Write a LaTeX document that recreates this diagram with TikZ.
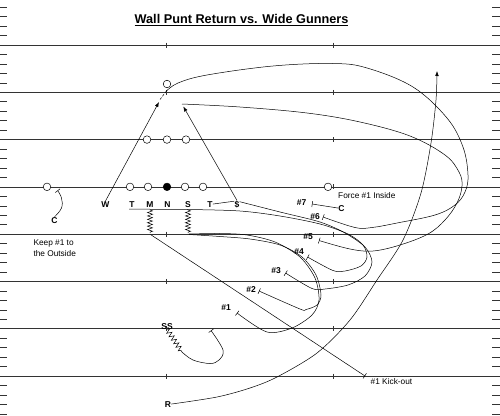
\documentclass[tikz,border=0pt]{standalone}
\usepackage{fontspec}
\setmainfont{Liberation Sans}
\usetikzlibrary{arrows.meta,decorations.pathmorphing}
\begin{document}
\begin{tikzpicture}[x=1pt,y=-1pt,
  yard/.style={draw=black!80,line width=0.6pt},
  tick/.style={draw=black!80,line width=0.5pt},
  player/.style={circle,draw,fill=white,inner sep=0pt,minimum size=7.6pt,line width=0.5pt},
  lbl/.style={font=\bfseries\fontsize{8.5}{10}\selectfont,inner sep=0pt,anchor=base},
  txt/.style={font=\fontsize{8.3}{10.5}\selectfont,inner sep=0pt,anchor=base west},
  route/.style={draw,line width=0.5pt},
  blk/.style={route,-{Bar[width=6pt,line width=0.5pt]}},
  arr/.style={route,-{Latex[length=5pt,width=3.6pt]}},
  zz/.style={route,decorate,decoration={zigzag,segment length=3.4pt,amplitude=2.5pt}},
  zzw/.style={route,decorate,decoration={zigzag,segment length=4.2pt,amplitude=2.5pt}}]
\useasboundingbox (0,0) rectangle (500,415);
\fill[white] (0,0) rectangle (500,415);
% yard lines and hash marks
\foreach \k in {0,...,7}{
  \pgfmathsetmacro\yy{45+47.286*\k}
  \draw[yard] (0,\yy) -- (500,\yy);
  \draw[tick] (166.7,\yy-2.5) -- (166.7,\yy+2.5);
  \draw[tick] (333.3,\yy-2.5) -- (333.3,\yy+2.5);
}
\foreach \k in {-1,...,7}{
  \foreach \j in {1,...,4}{
    \pgfmathsetmacro\yy{45+47.286*\k+9.457*\j}
    \draw[tick] (0,\yy) -- (6.5,\yy);
    \draw[tick] (492,\yy) -- (500,\yy);
  }
}
% title
\node[font=\bfseries\fontsize{12.7}{15}\selectfont,inner sep=0pt,anchor=base] (title) at (241.5,23.5) {\underline{Wall Punt Return vs. Wide Gunners}};
% kicking team
\node[player] (g1) at (47,186.86) {};
\node[player] (l1) at (130,186.86) {};
\node[player] (l2) at (148,186.86) {};
\node[player,fill=black] (l3) at (167,186.86) {};
\node[player] (l4) at (185,186.86) {};
\node[player] (l5) at (203,186.86) {};
\node[player] (g2) at (328,186.86) {};
\node[player] (u1) at (147,139.57) {};
\node[player] (u2) at (167,139.57) {};
\node[player] (u3) at (186,139.57) {};
\node[player] (pt) at (167,84) {};
% return team labels
\node[lbl] (W) at (105.5,207) {W};
\node[lbl] (T1) at (132,207) {T};
\node[lbl] (M) at (150,207) {M};
\node[lbl] (N) at (167.5,207) {N};
\node[lbl] (S) at (188,207) {S};
\node[lbl] (T2) at (210,207) {T};
\node[lbl] (D) at (237,207) {\$};
\node[lbl] (C1) at (54.5,223) {C};
\node[lbl] (C2) at (341.5,211) {C};
\node[lbl] (SS) at (167,329) {SS};
\node[lbl] (R) at (168,407) {R};
% wall spot labels
\node[lbl] (w7) at (301.5,205) {\#7};
\node[lbl] (w6) at (315,219) {\#6};
\node[lbl] (w5) at (308,239) {\#5};
\node[lbl] (w4) at (299,254) {\#4};
\node[lbl] (w3) at (276,273.5) {\#3};
\node[lbl] (w2) at (251,292) {\#2};
\node[lbl] (w1) at (226,310) {\#1};
% texts
\node[txt] (keep) at (33.3,245.5) {Keep \#1 to};
\node[txt] (outs) at (33.3,256) {the Outside};
\node[txt] (force) at (338,198) {Force \#1 Inside};
\node[txt] (kick) at (370.5,384) {\#1 Kick-out};
% named route points
\coordinate (wend) at (159,102);
\coordinate (dend) at (183.3,106.5);
\coordinate (b6) at (323,217);
\coordinate (b5) at (319,240.5);
\coordinate (b4) at (307.5,257);
\coordinate (b3) at (285.5,273);
\coordinate (b2) at (259,291);
\coordinate (b1) at (237,313);
\coordinate (b7) at (312,204);
\coordinate (bk) at (365,376);
\coordinate (bss) at (211,330.5);
\coordinate (bc) at (57.5,190.5);
\coordinate (ra) at (437,71);
% W: rush then peel to #6
\draw[arr] (W.north) -- (wend);
\draw[route,dash pattern=on 2.5pt off 1.5pt] (160,99.5) -- (166,91.5);
\draw[blk] plot[smooth,tension=0.6] coordinates {(166,91.5) (178,83) (207,75) (273,66) (333,63.5) (367,68) (413,87) (447,118) (463,147) (468,175) (465,192) (455,205) (435,215) (397,223) (372,227.5) (355,227.5) (b6)};
% $: rush then peel to #5
\draw[arr] (D.north) -- (dend);
\draw[blk] plot[smooth,tension=0.6] coordinates {(182,104) (240,107) (307,113) (360,122) (410,136) (445,155) (459,172) (462,186) (457,203) (445,220) (428,234) (400,245) (373,251) (350,249) (b5)};
% T1: along the line to #4
\draw[blk] plot[smooth,tension=0.5] coordinates {([yshift=-2pt]T1.south west) (188,209.5) (240,211) (280,216) (320,224) (348,234) (363,245) (367,257) (361,266) (345,271) (333,270.5) (b4)};
% T2 through $ to #3
\draw[route] (T2.east) -- ([yshift=3pt]D.west);
\draw[blk] plot[smooth,tension=0.5] coordinates {([yshift=2.5pt]D.east) (280,212) (320,222) (345,233) (365,247) (372,262) (365,276) (348,285) (325,289) (312,288.5) (b3)};
% M: zigzag then kick-out
\draw[zz] (150,210) -- (150,233);
\draw[blk] (150.5,234.5) -- (bk);
% S: zigzag then to #2 and #1
\draw[zz] (188,210) -- (188,233);
\draw[blk] plot[smooth,tension=0.5] coordinates {(189,234.5) (220,236.5) (250,239) (280,245) (302,257) (316,275) (321,295) (317,305) (306,309.5) (300,309) (b2)};
\draw[blk] plot[smooth,tension=0.5] coordinates {(189,234) (220,233.5) (247,235) (275,242) (300,257) (315,278) (319,300) (312,315) (292,328) (267,332) (b1)};
% SS
\draw[zzw] (SS.south) -- (182,352);
\draw[blk] plot[smooth,tension=0.6] coordinates {(182,352) (193,360) (210,363.5) (219,360) (223,350) (bss)};
% C (left) blocks gunner
\draw[blk] plot[smooth,tension=0.7] coordinates {(C1.north) (61.5,208) (61.5,198) (bc)};
% C (right) to #7
\draw[blk] (C2.west) -- (b7);
% R: return up the wall
\draw[arr] plot[smooth,tension=0.5] coordinates {(R.east) (217,397) (250,388) (277,377) (317,353) (350,320) (377,280) (403,240) (421,193) (431,143) (436,100) (ra)};
\end{tikzpicture}
\end{document}
